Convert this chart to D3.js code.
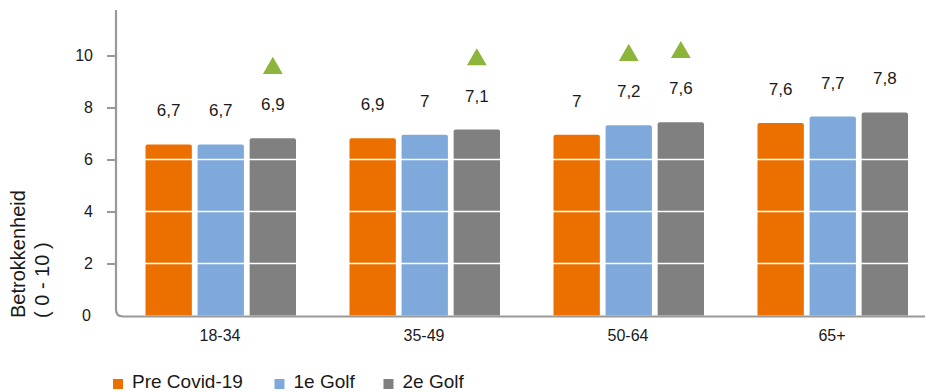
<!DOCTYPE html>
<html><head><meta charset="utf-8">
<script src="https://cdn.jsdelivr.net/npm/d3@7"></script>
<style>body{margin:0;background:#fff}svg{display:block}text{font-family:"Liberation Sans",Arial,sans-serif;fill:#1a1a1a}</style>
</head><body><svg id="c" width="925" height="392"></svg>
<script>
const categories = ["18-34", "35-49", "50-64", "65+"];
const seriesNames = ["Pre Covid-19", "1e Golf", "2e Golf"];
const seriesColors = ["#EC7000", "#7FA9DA", "#808080"];
const preCovid = [6.58, 6.82, 6.95, 7.40];
const golf1 = [6.58, 6.95, 7.32, 7.65];
const golf2 = [6.82, 7.15, 7.43, 7.81];
const labelsPre = ["6,7", "6,9", "7", "7,6"];
const labels1 = ["6,7", "7", "7,2", "7,7"];
const labels2 = ["6,9", "7,1", "7,6", "7,8"];
const sigPre = [false, false, false, false];
const sig1 = [false, false, true, false];
const sig2 = [true, true, true, false];
const yTicks = [0, 2, 4, 6, 8, 10];

const series = [
  {name: seriesNames[0], color: seriesColors[0], values: preCovid, labels: labelsPre, sig: sigPre},
  {name: seriesNames[1], color: seriesColors[1], values: golf1, labels: labels1, sig: sig1},
  {name: seriesNames[2], color: seriesColors[2], values: golf2, labels: labels2, sig: sig2}
];

const svg = d3.select("#c");
const x0 = d3.scaleBand().domain(categories).range([119, 935]).paddingInner(0).paddingOuter(0);
const x1 = d3.scaleBand().domain(seriesNames).range([26.5, x0.bandwidth() - 27]).paddingInner(0.11);
const y = d3.scaleLinear().domain([0, 11.8]).range([315.5, 8.7]);

// bars
const g = svg.append("g");
categories.forEach((c, i) => {
  series.forEach(s => {
    const bx = x0(c) + x1(s.name), bw = x1.bandwidth(), by = y(s.values[i]);
    g.append("path")
      .attr("d", `M${bx},${y(0)}V${by + 2}Q${bx},${by} ${bx + 2},${by}H${bx + bw - 2}Q${bx + bw},${by} ${bx + bw},${by + 2}V${y(0)}Z`)
      .attr("fill", s.color);
  });
});

// white gridlines over bars
svg.append("g").selectAll("line").data(yTicks.filter(t => t > 0)).join("line")
  .attr("x1", 117).attr("x2", 925)
  .attr("y1", d => y(d)).attr("y2", d => y(d))
  .attr("stroke", "#fff").attr("stroke-width", 1.6);

// labels and triangles
categories.forEach((c, i) => {
  series.forEach(s => {
    const cx = x0(c) + x1(s.name) + x1.bandwidth() / 2;
    const ly = y(s.values[i]) - 33.5;
    svg.append("text").attr("x", cx).attr("y", ly).attr("text-anchor", "middle")
      .attr("dominant-baseline", "central").style("font-size", "17px").text(s.labels[i]);
    if (s.sig[i]) {
      const ty = ly - 38;
      svg.append("path").attr("d", d3.symbol().type(d3.symbolTriangle).size(170)())
        .attr("transform", `translate(${cx},${ty + 1.5})`).attr("fill", "#8DB43B");
    }
  });
});

// axes: y line with rounded corner and baseline
const ax = 116, base = y(0) + 1, r = 7;
svg.append("path")
  .attr("d", `M${ax},10V${base - r}Q${ax},${base} ${ax + r},${base}H925`)
  .attr("fill", "none").attr("stroke", "#999").attr("stroke-width", 2.2);
const yAxis = d3.axisLeft(y).tickValues(yTicks.filter(t => t > 0)).tickSize(9).tickPadding(14).tickFormat(d3.format("d"));
const ya = svg.append("g").attr("transform", `translate(${ax},0)`).call(yAxis);
ya.select(".domain").remove();
ya.selectAll("line").attr("stroke", "#999").attr("stroke-width", 2);
ya.selectAll("text").style("font-size", "16px").attr("fill", "#1a1a1a").attr("font-family", null);
svg.append("text").attr("x", 91).attr("y", y(0)).attr("text-anchor", "end")
  .attr("dominant-baseline", "central").style("font-size", "16px").text("0");

// x labels
svg.append("g").selectAll("text").data(categories).join("text")
  .attr("x", d => x0(d) + x0.bandwidth() / 2 - 1).attr("y", 335)
  .attr("text-anchor", "middle").attr("dominant-baseline", "central")
  .style("font-size", "16px").text(d => d);

// y title
const yt = svg.append("text").attr("transform", "translate(25,318) rotate(-90)").style("font-size", "20px");
yt.append("tspan").attr("x", 0).attr("y", 0).text("Betrokkenheid");
yt.append("tspan").attr("x", 0).attr("y", 24).text("( 0 - 10 )");

// legend
const legX = [113, 274.5, 383.5];
series.forEach((s, i) => {
  svg.append("rect").attr("x", legX[i]).attr("y", 379).attr("width", 10).attr("height", 10).attr("fill", s.color);
  svg.append("text").attr("x", legX[i] + 19).attr("y", 388).style("font-size", "19px").text(s.name);
});
</script></body></html>
